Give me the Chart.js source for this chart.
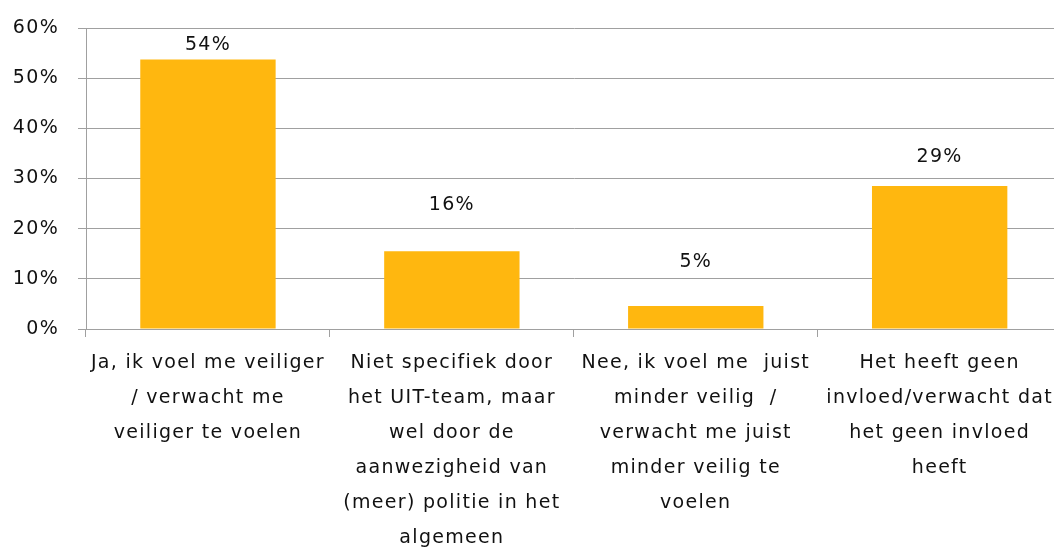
<!DOCTYPE html>
<html>
<head>
<meta charset="utf-8">
<script src="https://cdn.jsdelivr.net/npm/chart.js@4.4.1/dist/chart.umd.min.js"></script>
<style>
  html, body { margin: 0; padding: 0; background: #fff; overflow: hidden; }
  #wrap { width: 1062px; height: 549px; position: relative; }
</style>
</head>
<body>
<div id="wrap"><canvas id="chart"></canvas></div>
<script>
const categories = [
  ["Ja, ik voel me veiliger", "/ verwacht me", "veiliger te voelen"],
  ["Niet specifiek door", "het UIT-team, maar", "wel door de", "aanwezigheid van", "(meer) politie in het", "algemeen"],
  ["Nee, ik voel me  juist", "minder veilig  /", "verwacht me juist", "minder veilig te", "voelen"],
  ["Het heeft geen", "invloed/verwacht dat", "het geen invloed", "heeft"]
];
const values = [53.7, 15.5, 4.6, 28.5];
const valueLabels = ["54%", "16%", "5%", "29%"];

// how far above each bar top the value label sits (px)
const labelGap = [15, 46, 44, 29];

const FONT = "'DejaVu Sans', sans-serif";
const GRID = "#a0a0a0";
const SPACING = "1.3px";

// the original font runs wider than DejaVu, so open up the letters a bit
const spacingPlugin = {
  id: "spacing",
  beforeLayout(chart) { chart.ctx.letterSpacing = SPACING; },
  beforeDraw(chart) { chart.ctx.letterSpacing = SPACING; }
};

const valueLabelPlugin = {
  id: "valueLabels",
  afterDatasetsDraw(chart) {
    const ctx = chart.ctx;
    const meta = chart.getDatasetMeta(0);
    ctx.save();
    ctx.letterSpacing = SPACING;
    ctx.font = "19px " + FONT;
    ctx.fillStyle = "#111";
    ctx.textAlign = "center";
    ctx.textBaseline = "middle";
    meta.data.forEach((bar, i) => {
      ctx.fillText(valueLabels[i], bar.x, bar.y - labelGap[i]);
    });
    ctx.restore();
  }
};

new Chart(document.getElementById("chart"), {
  type: "bar",
  data: {
    labels: categories,
    datasets: [{
      data: values,
      backgroundColor: "rgb(255,183,15)",
      borderWidth: 0,
      categoryPercentage: 1,
      barPercentage: 0.555
    }]
  },
  options: {
    responsive: true,
    maintainAspectRatio: false,
    animation: false,
    layout: { padding: { top: 28, left: 0, right: 0, bottom: 0 } },
    plugins: { legend: { display: false }, tooltip: { enabled: false } },
    scales: {
      x: {
        grid: { drawOnChartArea: false, color: GRID, tickLength: 8, offset: true },
        border: { color: GRID },
        ticks: {
          autoSkip: false,
          maxRotation: 0,
          padding: 9,
          color: "#111",
          font: { family: FONT, size: 19, lineHeight: 35 / 19 }
        },
        afterFit(scale) { scale.height = 220; }
      },
      y: {
        min: 0,
        max: 60,
        grid: { color: GRID, tickLength: 8 },
        border: { color: GRID },
        ticks: {
          stepSize: 10,
          padding: 19,
          color: "#111",
          font: { family: FONT, size: 19 },
          callback: (v) => v + "%"
        },
        afterFit(scale) {
          scale.width = 86;
          scale.paddingTop = 0;
          scale.paddingBottom = 0;
        }
      }
    }
  },
  plugins: [spacingPlugin, valueLabelPlugin]
});
</script>
</body>
</html>
